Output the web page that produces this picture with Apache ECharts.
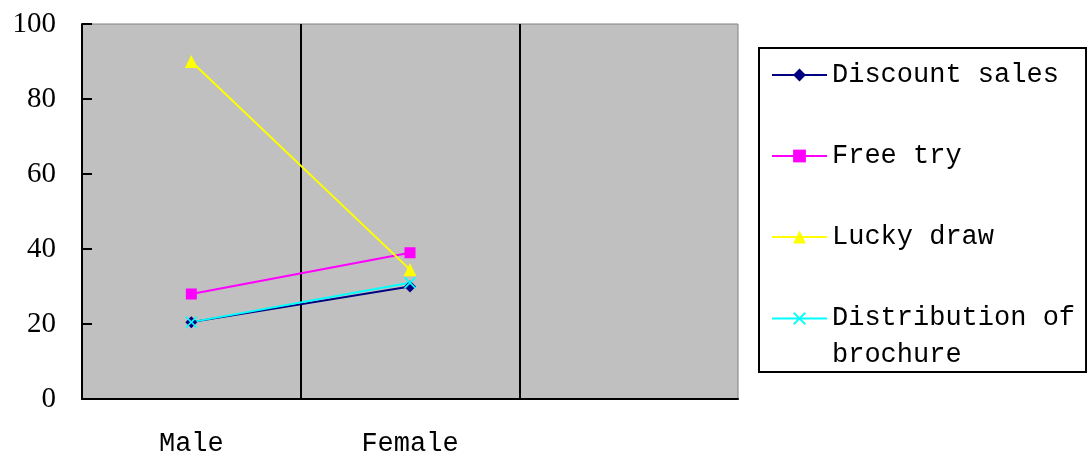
<!DOCTYPE html>
<html>
<head>
<meta charset="utf-8">
<script src="https://cdn.jsdelivr.net/npm/echarts@6/dist/echarts.min.js"></script>
<style>html,body{margin:0;padding:0;background:#fff;}#c{width:1087px;height:457px;}</style>
</head>
<body>
<div id="c"></div>
<script>
var categories = ['Male', 'Female', ''];
var discountSales = [20.5, 30, null];
var freeTry = [28, 39, null];
var luckyDraw = [90, 34.5, null];
var distributionOfBrochure = [20.5, 31, null];
var yTicks = [0, 20, 40, 60, 80, 100];
var seriesNames = ['Discount sales', 'Free try', 'Lucky draw', 'Distribution of brochure'];

var xPath = 'path://M0,1L1,0L5,4L9,0L10,1L6,5L10,9L9,10L5,6L1,10L0,9L4,5Z';
var chart = echarts.init(document.getElementById('c'), null, {renderer: 'canvas'});

function mk(name, data, color, symbol, size) {
  return {
    name: name, type: 'line', data: data,
    symbol: symbol, symbolSize: size,
    lineStyle: {color: color, width: 2},
    itemStyle: {color: color},
    connectNulls: false,
    animation: false
  };
}

chart.setOption({
  animation: false,
  grid: {
    left: 82, right: 349, top: 24, bottom: 58,
    show: true, backgroundColor: '#c0c0c0', borderColor: '#808080', borderWidth: 1
  },
  xAxis: {
    type: 'category', data: categories, boundaryGap: true,
    axisLine: {lineStyle: {color: '#000', width: 2}},
    axisTick: {show: false},
    axisLabel: {color: '#000', fontFamily: 'Liberation Mono', fontSize: 27, margin: 31},
    splitLine: {show: true, lineStyle: {color: ['#000', '#000', '#000', 'rgba(0,0,0,0)'], width: 2}}
  },
  yAxis: {
    type: 'value', min: yTicks[0], max: yTicks[yTicks.length - 1], interval: yTicks[1] - yTicks[0],
    axisLine: {show: true, lineStyle: {color: '#000', width: 2}},
    axisTick: {show: true, inside: true, length: 10, lineStyle: {color: '#000', width: 2}},
    axisLabel: {color: '#000', fontFamily: 'Liberation Serif', fontSize: 29, margin: 26},
    splitLine: {show: false}
  },
  legend: {
    orient: 'vertical', left: 759, top: 48,
    padding: [9, 11, 4, 12],
    backgroundColor: '#fff', borderColor: '#000', borderWidth: 2, borderRadius: 0,
    itemWidth: 55, itemHeight: 16, itemGap: 45,
    data: seriesNames,
    formatter: function (n) {
      if (n === 'Distribution of brochure') return '{a|Distribution of}\n{b|brochure}';
      return n;
    },
    textStyle: {
      color: '#000', fontFamily: 'Liberation Mono', fontSize: 27, lineHeight: 36,
      rich: {
        a: {fontFamily: 'Liberation Mono', fontSize: 27, lineHeight: 36, color: '#000'},
        b: {fontFamily: 'Liberation Mono', fontSize: 27, lineHeight: 1, verticalAlign: 'top', padding: [5, 0, 0, 0], color: '#000'}
      }
    }
  },
  series: [
    mk(seriesNames[0], discountSales, '#000080', 'diamond', 12),
    mk(seriesNames[1], freeTry, '#ff00ff', 'rect', 11),
    mk(seriesNames[2], luckyDraw, '#ffff00', 'triangle', 13),
    mk(seriesNames[3], distributionOfBrochure, '#00ffff', xPath, 12)
  ]
});
</script>
</body>
</html>
